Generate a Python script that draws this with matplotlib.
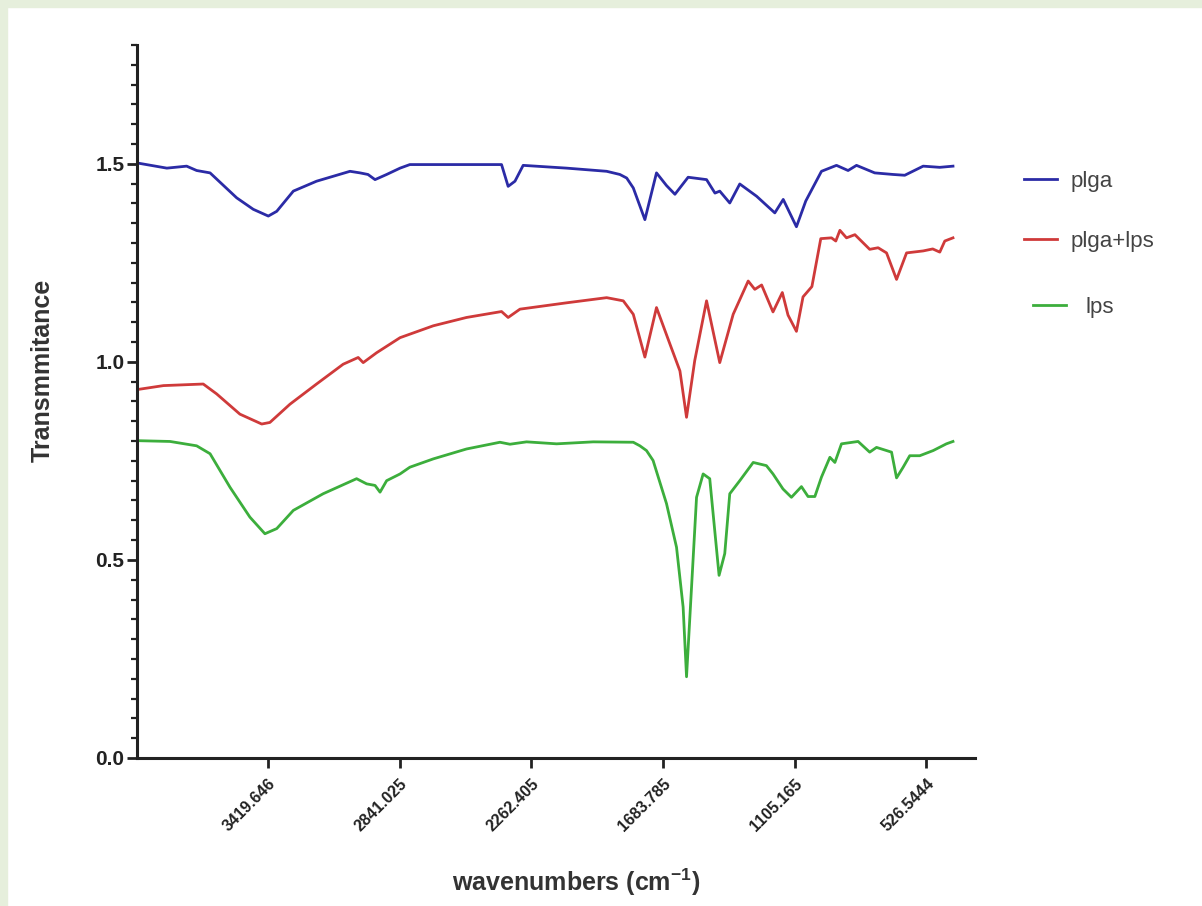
import matplotlib
matplotlib.use("Agg")
import matplotlib.pyplot as plt
from matplotlib.ticker import MultipleLocator
from matplotlib.patches import Rectangle

plt.rcParams['font.family'] = ['Liberation Sans', 'DejaVu Sans']
plt.rcParams['mathtext.default'] = 'regular'

# FTIR spectra (wavenumber cm-1, transmittance)
plga_wn = [3995, 3865, 3778, 3734, 3675, 3558, 3485, 3419, 3382, 3309, 3207, 3060,
           3016, 2981, 2950, 2899, 2840, 2797, 2394, 2365, 2335, 2299, 2108, 1932,
           1874, 1844, 1815, 1764, 1713, 1669, 1632, 1574, 1493, 1456, 1435, 1391,
           1347, 1273, 1193, 1156, 1098, 1057, 988, 922, 871, 834, 754, 673, 622,
           541, 468, 410]
plga_t = [1.502, 1.489, 1.494, 1.483, 1.477, 1.414, 1.385, 1.368, 1.380, 1.431, 1.456, 1.481,
          1.477, 1.473, 1.460, 1.473, 1.489, 1.498, 1.498, 1.443, 1.456, 1.496, 1.489, 1.481,
          1.473, 1.464, 1.439, 1.359, 1.477, 1.445, 1.423, 1.466, 1.460, 1.426, 1.431, 1.401,
          1.449, 1.418, 1.376, 1.410, 1.341, 1.406, 1.481, 1.496, 1.483, 1.496, 1.477, 1.473, 1.471,
          1.494, 1.491, 1.494]

mix_wn = [3995, 3880, 3705, 3646, 3544, 3448, 3412, 3324, 3207, 3090, 3024, 3002,
          2943, 2840, 2694, 2548, 2394, 2365, 2313, 2108, 1932, 1859, 1815, 1764,
          1713, 1654, 1610, 1581, 1545, 1493, 1435, 1376, 1310, 1281, 1251, 1201,
          1160, 1135, 1098, 1069, 1030, 991, 944, 925, 907, 878, 841, 776, 739,
          702, 658, 614, 541, 499, 468, 446, 410]
mix_t = [0.930, 0.940, 0.944, 0.919, 0.868, 0.843, 0.847, 0.893, 0.944, 0.994, 1.011, 0.998,
         1.023, 1.061, 1.091, 1.112, 1.127, 1.112, 1.133, 1.149, 1.162, 1.154, 1.120, 1.012,
         1.137, 1.045, 0.977, 0.860, 1.003, 1.154, 0.998, 1.120, 1.204, 1.183, 1.194, 1.126,
         1.175, 1.118, 1.077, 1.164, 1.190, 1.311, 1.313, 1.305, 1.332, 1.313, 1.321, 1.284, 1.288,
         1.275, 1.208, 1.275, 1.280, 1.285, 1.277, 1.305, 1.313]

lps_wn = [3995, 3851, 3734, 3675, 3587, 3500, 3434, 3382, 3309, 3178, 3031, 2987,
          2950, 2928, 2899, 2840, 2797, 2694, 2548, 2401, 2357, 2284, 2152, 1991,
          1815, 1786, 1757, 1728, 1669, 1625, 1596, 1581, 1559, 1537, 1508, 1479,
          1457, 1438, 1413, 1391, 1347, 1288, 1230, 1201, 1157, 1120, 1076, 1047,
          1017, 988, 951, 929, 900, 827, 776, 746, 680, 658, 629, 600, 556, 497,
          439, 410]
lps_t = [0.801, 0.799, 0.788, 0.768, 0.683, 0.608, 0.566, 0.579, 0.625, 0.667, 0.705, 0.692,
         0.688, 0.671, 0.700, 0.717, 0.734, 0.755, 0.780, 0.797, 0.792, 0.798, 0.793, 0.798,
         0.797, 0.788, 0.776, 0.751, 0.642, 0.532, 0.381, 0.205, 0.431, 0.658, 0.717, 0.705,
         0.574, 0.461, 0.516, 0.667, 0.700, 0.746, 0.738, 0.717, 0.679, 0.658, 0.685, 0.660,
         0.660, 0.709, 0.759, 0.746, 0.793, 0.799, 0.772, 0.784, 0.772, 0.707, 0.734, 0.763, 0.763, 0.776,
         0.793, 0.799]

xticks = [3419.646, 2841.025, 2262.405, 1683.785, 1105.165, 526.5444]
xtick_labels = ["3419.646", "2841.025", "2262.405", "1683.785", "1105.165", "526.5444"]

fig = plt.figure(figsize=(12.02, 9.06), dpi=100, facecolor="white")
# light green frame on top and left edge of the original screenshot
fig.patches.append(Rectangle((0, 0.992), 1, 0.008, transform=fig.transFigure,
                             color="#e6efdc", zorder=0))
fig.patches.append(Rectangle((0, 0), 0.006, 1, transform=fig.transFigure,
                             color="#e6efdc", zorder=0))

ax = fig.add_axes([0.114, 0.1634, 0.697, 0.787])
l1, = ax.plot(plga_wn, plga_t, color="#2b2ba6", lw=2.0, label="plga")
l2, = ax.plot(mix_wn, mix_t, color="#cf3a3a", lw=2.0, label="plga+lps")
l3, = ax.plot(lps_wn, lps_t, color="#3cae3c", lw=2.0, label="lps")

ax.set_xlim(3996, 314)
ax.set_ylim(0, 1.8)
ax.set_xticks(xticks)
ax.set_xticklabels(xtick_labels, rotation=45, ha="right", rotation_mode="anchor",
                   fontsize=11.5, fontweight="bold", color="#222222")
ax.set_yticks([0, 0.5, 1.0, 1.5])
ax.set_yticklabels(["0.0", "0.5", "1.0", "1.5"], fontsize=15, fontweight="bold",
                   color="#222222")
ax.yaxis.set_minor_locator(MultipleLocator(0.05))

for s in ["top", "right"]:
    ax.spines[s].set_visible(False)
for s in ["left", "bottom"]:
    ax.spines[s].set_linewidth(2.2)
    ax.spines[s].set_color("#222222")
ax.tick_params(axis="both", which="major", length=7, width=2, color="#222222", pad=2)
ax.tick_params(axis="y", which="minor", length=4.5, width=1.6, color="#222222")
ax.tick_params(axis="x", pad=6)

ax.set_xlabel("wavenumbers (cm$^{-1}$)", fontsize=18, fontweight="bold", color="#333333")
ax.xaxis.set_label_coords(0.524, -0.153)
ax.set_ylabel("Transmmitance", fontsize=18, fontweight="bold", color="#333333")
ax.yaxis.set_label_coords(-0.098, 0.544)

leg_kw = dict(frameon=False, fontsize=16, handlelength=1.5, borderpad=0,
              borderaxespad=0, bbox_transform=fig.transFigure, loc="upper left")
leg = ax.legend(handles=[l1, l2], labelspacing=1.75, handletextpad=0.6,
                bbox_to_anchor=(0.852, 0.811), **leg_kw)
ax.add_artist(leg)
leg2 = ax.legend(handles=[l3], handletextpad=0.9, bbox_to_anchor=(0.859, 0.672), **leg_kw)
for lg in (leg, leg2):
    for t in lg.get_texts():
        t.set_color("#444444")

fig.savefig("out.png", dpi=100, facecolor=fig.get_facecolor())
